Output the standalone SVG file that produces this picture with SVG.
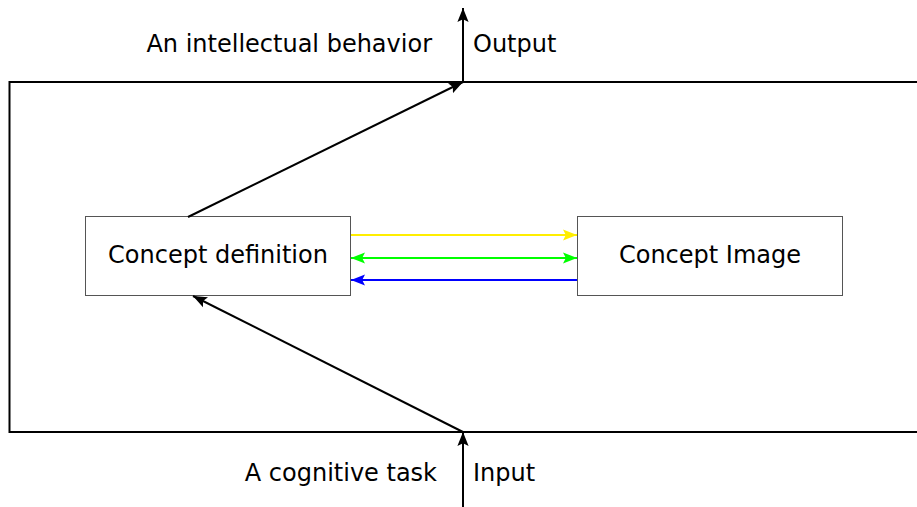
<svg xmlns="http://www.w3.org/2000/svg" width="917" height="507" viewBox="0 0 917 507">
<style>
text{font-family:"DejaVu Sans","Liberation Sans",sans-serif;font-size:24px;fill:#000}
.box{fill:#fff;stroke:#555;stroke-width:1}
.ln{fill:none;stroke-width:2}
</style>
<defs>
<marker id="ab" viewBox="0 0 10 10" refX="10" refY="5" markerWidth="14" markerHeight="14" orient="auto-start-reverse" markerUnits="userSpaceOnUse"><path d="M0,1 L10,5 L0,9 L2,5 z" fill="#000"/></marker>
<marker id="ay" viewBox="0 0 10 10" refX="10" refY="5" markerWidth="14" markerHeight="14" orient="auto-start-reverse" markerUnits="userSpaceOnUse"><path d="M0,1 L10,5 L0,9 L2,5 z" fill="#ffee00"/></marker>
<marker id="ag" viewBox="0 0 10 10" refX="10" refY="5" markerWidth="14" markerHeight="14" orient="auto-start-reverse" markerUnits="userSpaceOnUse"><path d="M0,1 L10,5 L0,9 L2,5 z" fill="#00ff00"/></marker>
<marker id="al" viewBox="0 0 10 10" refX="10" refY="5" markerWidth="14" markerHeight="14" orient="auto-start-reverse" markerUnits="userSpaceOnUse"><path d="M0,1 L10,5 L0,9 L2,5 z" fill="#0000ff"/></marker>
</defs>
<rect width="917" height="507" fill="#fff"/>
<g id="frame"><path d="M920,82 H9.5 V432 H920" fill="none" stroke="#000" stroke-width="2"/></g>
<g id="def"><rect class="box" x="85.5" y="216.5" width="265" height="79"/><text x="218" y="263" text-anchor="middle">Concept definition</text></g>
<g id="img"><rect class="box" x="577.5" y="216.5" width="265" height="79"/><text x="710" y="263" text-anchor="middle">Concept Image</text></g>
<g id="labels">
<text x="432" y="52" text-anchor="end">An intellectual behavior</text>
<text x="473" y="52">Output</text>
<text x="437" y="481" text-anchor="end">A cognitive task</text>
<text x="473" y="481">Input</text>
</g>
<g id="connectors">
<line class="ln" x1="351" y1="235" x2="577" y2="235" stroke="#ffee00" marker-end="url(#ay)"/>
<line class="ln" x1="351" y1="258" x2="577" y2="258" stroke="#00ff00" marker-start="url(#ag)" marker-end="url(#ag)"/>
<line class="ln" x1="577" y1="280" x2="351" y2="280" stroke="#0000ff" marker-end="url(#al)"/>
<line class="ln" x1="188" y1="217" x2="463" y2="82" stroke="#000" marker-end="url(#ab)"/>
<line class="ln" x1="463" y1="432" x2="193" y2="296" stroke="#000" marker-end="url(#ab)"/>
<line class="ln" x1="463" y1="82" x2="463" y2="8" stroke="#000" marker-end="url(#ab)"/>
<line class="ln" x1="463" y1="507" x2="463" y2="432" stroke="#000" marker-end="url(#ab)"/>
</g>
</svg>
